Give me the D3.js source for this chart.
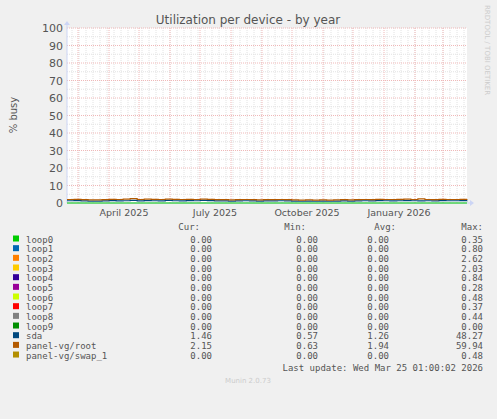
<!DOCTYPE html>
<html><head><meta charset="utf-8">
<script src="https://cdn.jsdelivr.net/npm/d3@7"></script>
<style>body{margin:0;background:#f0f0f0}</style>
</head><body>
<svg id="chart" width="497" height="419"></svg>
<script>
// series names, colours and legend values
let names = ["loop0","loop1","loop2","loop3","loop4","loop5","loop6","loop7","loop8","loop9","sda","panel-vg/root","panel-vg/swap_1"];
let colors = ["#00cc00","#0066b3","#ff8000","#ffcc00","#330099","#990099","#ccff00","#ff0000","#808080","#008f00","#00487d","#b35a00","#b38f00"];
let cur = ["0.00","0.00","0.00","0.00","0.00","0.00","0.00","0.00","0.00","0.00","1.46","2.15","0.00"];
let mins = ["0.00","0.00","0.00","0.00","0.00","0.00","0.00","0.00","0.00","0.00","0.57","0.63","0.00"];
let avgs = ["0.00","0.00","0.00","0.00","0.00","0.00","0.00","0.00","0.00","0.00","1.26","1.94","0.00"];
let maxs = ["0.35","0.80","2.62","2.03","0.84","0.28","0.48","0.37","0.44","0.00","48.27","59.94","0.48"];
let yTicks = [0,10,20,30,40,50,60,70,80,90,100];
let monthLabels = [["April 2025","2025-04-16"],["July 2025","2025-07-16"],["October 2025","2025-10-16"],["January 2026","2026-01-16"]];

// weekly samples (sda and root), Feb 2025 - Mar 2026
let sdaVals = [1.3,1.4,1.2,1.1,1.1,1.2,1.4,1.2,1.3,1.5,1.2,1.4,1.3,1.2,1.5,1.3,1.2,1.4,1.3,1.5,1.4,1.2,1.2,1.1,1.2,1.3,1.2,1.1,1.2,1.2,1.3,1.2,1.1,1.0,1.1,1.0,1.1,1.0,1.1,1.2,1.1,1.2,1.3,1.2,1.4,1.3,1.2,1.3,1.4,1.3,1.2,1.3,1.2,1.4,1.3,1.3,1.4,1.46];
let rootVals = [2.0,2.1,1.9,1.8,1.8,1.9,2.1,2.0,2.2,2.5,2.0,2.2,2.1,2.0,2.2,2.1,2.0,2.1,2.0,2.2,2.1,1.9,1.9,1.8,1.9,2.0,1.9,1.8,1.9,1.9,2.0,1.9,1.8,1.7,1.8,1.7,1.8,1.7,1.8,1.9,1.8,1.9,2.0,1.9,2.1,2.0,2.0,2.1,2.2,2.0,2.4,2.0,1.9,2.1,2.0,2.0,2.1,2.15];

let svg = d3.select("#chart");
let start = new Date(2025,1,18), end = new Date(2026,2,25);
let x = d3.scaleTime().domain([start,end]).range([67,467]);
let y = d3.scaleLinear().domain([0,100]).range([203,28]);
let font = "DejaVu Sans";

svg.append("rect").attr("x",67).attr("y",28).attr("width",400).attr("height",175).attr("fill","#fff");

// grid
let weeks = d3.timeWeek.range(start,end);
svg.selectAll(".wk").data(weeks).enter().append("line")
    .attr("x1",d=>x(d)).attr("x2",d=>x(d)).attr("y1",28).attr("y2",203)
    .attr("stroke","#e2e2e2").attr("stroke-dasharray","1,1");
d3.range(5,100,10).forEach(v=>{
    svg.append("line").attr("x1",67).attr("x2",467).attr("y1",y(v)).attr("y2",y(v))
        .attr("stroke","#e2e2e2").attr("stroke-dasharray","1,1");
});
svg.selectAll(".mo").data(d3.timeMonth.range(start,end)).enter().append("line")
    .attr("x1",d=>x(d)).attr("x2",d=>x(d)).attr("y1",28).attr("y2",203)
    .attr("stroke","#f0b8b8").attr("stroke-dasharray","1,1");
yTicks.slice(1).forEach(v=>{
    svg.append("line").attr("x1",67).attr("x2",467).attr("y1",y(v)).attr("y2",y(v))
        .attr("stroke","#f0b8b8").attr("stroke-dasharray","1,1");
});

// axes
svg.append("line").attr("x1",67).attr("x2",470).attr("y1",203).attr("y2",203).attr("stroke","#ccd5f5");
svg.append("line").attr("x1",67).attr("x2",67).attr("y1",24).attr("y2",203).attr("stroke","#ccd5f5");
svg.append("path").attr("d","M470,200 L474,203 L470,206 Z").attr("fill","#ccd5f5");
svg.append("path").attr("d","M64,25 L67,21 L70,25 Z").attr("fill","#ccd5f5");
yTicks.forEach(v=>{
    svg.append("text").attr("x",63).attr("y",y(v)+4).attr("text-anchor","end")
        .attr("font-family",font).attr("font-size",11).attr("fill","#555").text(v);
});
monthLabels.forEach(m=>{
    svg.append("text").attr("x",x(new Date(m[1]))).attr("y",216).attr("text-anchor","middle")
        .attr("font-family",font).attr("font-size",9.5).attr("fill","#555").text(m[0]);
});

// lines
let stepDays = (end-start)/(sdaVals.length-1);
let line = d3.line().x((d,i)=>x(new Date(+start+i*stepDays))).y(d=>y(d)).curve(d3.curveStepAfter);
let zeros = sdaVals.map(()=>0);
names.forEach((n,i)=>{
    let vals = n==="sda" ? sdaVals : n==="panel-vg/root" ? rootVals : zeros;
    if (vals===zeros && i!==0) return;
    svg.append("path").datum(vals).attr("d",line).attr("fill","none")
        .attr("stroke",colors[i]).attr("stroke-width",1.2);
});

// titles
svg.append("text").attr("x",248).attr("y",24).attr("text-anchor","middle")
    .attr("font-family",font).attr("font-size",12).attr("fill","#555").text("Utilization per device - by year");
svg.append("text").attr("transform","translate(17,115) rotate(-90)").attr("text-anchor","middle")
    .attr("font-family",font).attr("font-size",10).attr("fill","#555").text("% busy");
svg.append("text").attr("transform","translate(485,5) rotate(90)")
    .attr("font-family",font).attr("font-size",7).attr("fill","#ccc").text("RRDTOOL / TOBI OETIKER");

// legend
let mono = "DejaVu Sans Mono";
[["Cur:",200],["Min:",306],["Avg:",396],["Max:",483]].forEach(h=>{
    svg.append("text").attr("x",h[1]).attr("y",230).attr("text-anchor","end")
        .attr("font-family",mono).attr("font-size",9).attr("fill","#555").text(h[0]);
});
names.forEach((n,i)=>{
    let yy = 242.5+i*9.67;
    svg.append("rect").attr("x",13).attr("y",yy-7).attr("width",6).attr("height",6).attr("fill",colors[i]);
    svg.append("text").attr("x",26).attr("y",yy).attr("font-family",mono).attr("font-size",9).attr("fill","#555").text(n);
    [[cur,212],[mins,318],[avgs,389],[maxs,483]].forEach(c=>{
        svg.append("text").attr("x",c[1]).attr("y",yy).attr("text-anchor","end")
            .attr("font-family",mono).attr("font-size",9).attr("fill","#555").text(c[0][i]);
    });
});
svg.append("text").attr("x",483).attr("y",371).attr("text-anchor","end")
    .attr("font-family",mono).attr("font-size",9).attr("fill","#555").text("Last update: Wed Mar 25 01:00:02 2026");
svg.append("text").attr("x",248).attr("y",383).attr("text-anchor","middle")
    .attr("font-family",font).attr("font-size",7).attr("fill","#ccc").text("Munin 2.0.73");
</script>
</body></html>
